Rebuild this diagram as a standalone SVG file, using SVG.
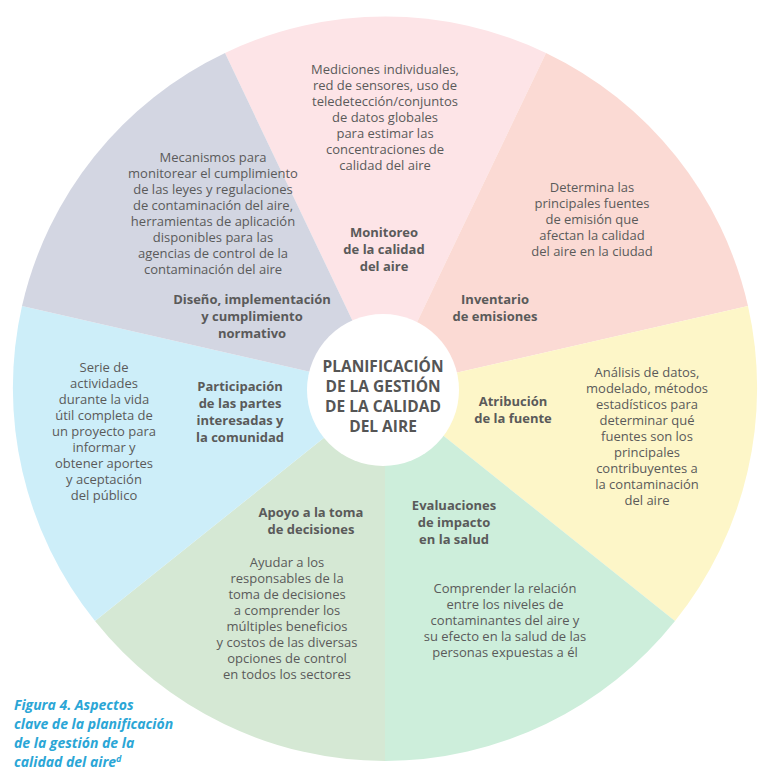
<svg xmlns="http://www.w3.org/2000/svg" width="774" height="781" viewBox="0 0 774 781">
<style>
text{font-family:"Open Sans","Liberation Sans",sans-serif;fill:#5a5a5a;text-anchor:middle}
.d{font-size:13px}
.t{font-size:13px;font-weight:bold}
.c{font-size:15.5px;font-weight:bold;fill:#555}
.cap{font-size:14px;font-weight:bold;font-style:italic;fill:#2ba6d6;text-anchor:start}
</style>
<rect width="774" height="781" fill="#fff"/>
<g id="sectors">
<path id="s1" d="M385,389 L225,53 A372,372 0 0 1 546,53 Z" fill="#fde4e7"/>
<path id="s2" d="M385,389 L546,53 A372,372 0 0 1 748,306 Z" fill="#fbdad4"/>
<path id="s3" d="M385,389 L748,306 A372,372 0 0 1 675,621 Z" fill="#fdf6c8"/>
<path id="s4" d="M385,389 L675,621 A372,372 0 0 1 385,761 Z" fill="#cdeedb"/>
<path id="s5" d="M385,389 L385,761 A372,372 0 0 1 95,621 Z" fill="#d5e8d4"/>
<path id="s6" d="M385,389 L95,621 A372,372 0 0 1 22,306 Z" fill="#cdeef9"/>
<path id="s7" d="M385,389 L22,306 A372,372 0 0 1 225,53 Z" fill="#d3d6e2"/>
</g>
<g id="center">
<circle cx="383" cy="390" r="76" fill="#fff"/>
<text class="c" x="383" y="372">PLANIFICACIÓN</text>
<text class="c" x="383" y="392">DE LA GESTIÓN</text>
<text class="c" x="383" y="412">DE LA CALIDAD</text>
<text class="c" x="383" y="432">DEL AIRE</text>
</g>
<g id="n1">
<text class="d" x="385" y="74">Mediciones individuales,</text>
<text class="d" x="385" y="90">red de sensores, uso de</text>
<text class="d" x="385" y="106">teledetección/conjuntos</text>
<text class="d" x="385" y="122">de datos globales</text>
<text class="d" x="385" y="138">para estimar las</text>
<text class="d" x="385" y="154">concentraciones de</text>
<text class="d" x="385" y="170">calidad del aire</text>
<text class="t" x="384" y="237">Monitoreo</text>
<text class="t" x="384" y="254">de la calidad</text>
<text class="t" x="384" y="271">del aire</text>
</g>
<g id="n2">
<text class="d" x="592" y="192">Determina las</text>
<text class="d" x="592" y="208">principales fuentes</text>
<text class="d" x="592" y="224">de emisión que</text>
<text class="d" x="592" y="240">afectan la calidad</text>
<text class="d" x="592" y="256">del aire en la ciudad</text>
<text class="t" x="495" y="304">Inventario</text>
<text class="t" x="495" y="321">de emisiones</text>
</g>
<g id="n3">
<text class="d" x="647" y="377">Análisis de datos,</text>
<text class="d" x="647" y="393">modelado, métodos</text>
<text class="d" x="647" y="409">estadísticos para</text>
<text class="d" x="647" y="425">determinar qué</text>
<text class="d" x="647" y="441">fuentes son los</text>
<text class="d" x="647" y="457">principales</text>
<text class="d" x="647" y="473">contribuyentes a</text>
<text class="d" x="647" y="489">la contaminación</text>
<text class="d" x="647" y="505">del aire</text>
<text class="t" x="513" y="406">Atribución</text>
<text class="t" x="513" y="423">de la fuente</text>
</g>
<g id="n4">
<text class="t" x="454" y="510">Evaluaciones</text>
<text class="t" x="454" y="527">de impacto</text>
<text class="t" x="454" y="544">en la salud</text>
<text class="d" x="505" y="593">Comprender la relación</text>
<text class="d" x="505" y="609">entre los niveles de</text>
<text class="d" x="505" y="625">contaminantes del aire y</text>
<text class="d" x="505" y="641">su efecto en la salud de las</text>
<text class="d" x="505" y="657">personas expuestas a él</text>
</g>
<g id="n5">
<text class="t" x="311" y="517">Apoyo a la toma</text>
<text class="t" x="311" y="534">de decisiones</text>
<text class="d" x="287" y="567">Ayudar a los</text>
<text class="d" x="287" y="583">responsables de la</text>
<text class="d" x="287" y="599">toma de decisiones</text>
<text class="d" x="287" y="615">a comprender los</text>
<text class="d" x="287" y="631">múltiples beneficios</text>
<text class="d" x="287" y="647">y costos de las diversas</text>
<text class="d" x="287" y="663">opciones de control</text>
<text class="d" x="287" y="679">en todos los sectores</text>
</g>
<g id="n6">
<text class="d" x="104" y="372">Serie de</text>
<text class="d" x="104" y="388">actividades</text>
<text class="d" x="104" y="404">durante la vida</text>
<text class="d" x="104" y="420">útil completa de</text>
<text class="d" x="104" y="436">un proyecto para</text>
<text class="d" x="104" y="452">informar y</text>
<text class="d" x="104" y="468">obtener aportes</text>
<text class="d" x="104" y="484">y aceptación</text>
<text class="d" x="104" y="500">del público</text>
<text class="t" x="240" y="391">Participación</text>
<text class="t" x="240" y="408">de las partes</text>
<text class="t" x="240" y="425">interesadas y</text>
<text class="t" x="240" y="442">la comunidad</text>
</g>
<g id="n7">
<text class="d" x="213" y="162">Mecanismos para</text>
<text class="d" x="213" y="178">monitorear el cumplimiento</text>
<text class="d" x="213" y="194">de las leyes y regulaciones</text>
<text class="d" x="213" y="210">de contaminación del aire,</text>
<text class="d" x="213" y="226">herramientas de aplicación</text>
<text class="d" x="213" y="242">disponibles para las</text>
<text class="d" x="213" y="258">agencias de control de la</text>
<text class="d" x="213" y="274">contaminación del aire</text>
<text class="t" x="252" y="304">Diseño, implementación</text>
<text class="t" x="252" y="321">y cumplimiento</text>
<text class="t" x="252" y="338">normativo</text>
</g>
<g id="connectors"></g>
<g id="caption">
<text class="cap" x="14" y="710">Figura 4. Aspectos</text>
<text class="cap" x="14" y="729">clave de la planificación</text>
<text class="cap" x="14" y="748">de la gestión de la</text>
<text class="cap" x="14" y="767">calidad del aire<tspan font-size="9" dy="-5">d</tspan></text>
</g>
</svg>
